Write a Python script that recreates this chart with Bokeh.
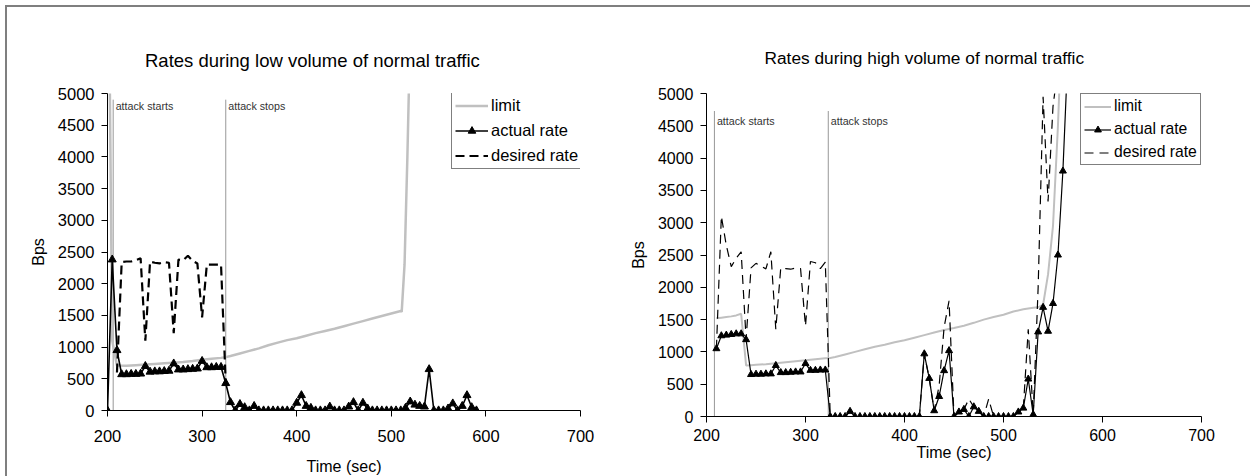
from bokeh.plotting import figure
from bokeh.layouts import row
from bokeh.models import FixedTicker, Legend, LegendItem, Range1d, Label
from bokeh.embed import file_html
from bokeh.resources import INLINE

FONT = "Liberation Sans"

# ---------------- data ----------------
x_ticks = [200, 300, 400, 500, 600, 700]
y_ticks = [0, 500, 1000, 1500, 2000, 2500, 3000, 3500, 4000, 4500, 5000]
legend_labels = ["limit", "actual rate", "desired rate"]
attack_labels = ["attack starts", "attack stops"]

low_title = "Rates during low volume of normal traffic"
high_title = "Rates during high volume of normal traffic"

# low volume chart
low_attack_t = [206, 325]
low_attack_top = [4900, 4900]
low_attack_label_y = [4800, 4800]

low_limit_t = [200, 205, 210, 220, 230, 240, 250, 260, 270, 280, 290, 300, 310, 320, 325,
               330, 340, 350, 360, 370, 380, 390, 400, 410, 420, 430, 440, 450, 460, 470,
               480, 490, 500, 505, 510, 511, 514, 517, 520]
low_limit_v = [9000, 1100, 710, 705, 715, 725, 735, 745, 755, 765, 780, 800, 815, 830, 842,
               860, 900, 940, 980, 1030, 1070, 1110, 1140, 1180, 1220, 1255, 1290, 1330, 1370, 1410,
               1450, 1490, 1530, 1550, 1568, 1555, 2300, 4000, 6000]

low_actual_t = [200, 205, 210, 215, 220, 225, 230, 235, 240, 245, 250, 255, 260, 265, 270,
                275, 280, 285, 290, 295, 300, 305, 310, 315, 320, 325, 330, 335, 340, 345,
                350, 355, 360, 365, 370, 375, 380, 385, 390, 395, 400, 405, 410, 415, 420,
                425, 430, 435, 440, 445, 450, 455, 460, 465, 470, 475, 480, 485, 490, 495,
                500, 505, 510, 515, 520, 525, 530, 535, 540, 545, 550, 555, 560, 565, 570,
                575, 580, 585, 590]
low_actual_v = [0, 2380, 950, 570, 570, 575, 575, 580, 700, 610, 615, 615, 620, 625, 740,
                645, 645, 650, 655, 660, 780, 680, 680, 685, 685, 430, 130, 0, 100, 50,
                0, 70, 0, 0, 0, 0, 0, 0, 0, 0, 120, 240, 70, 40, 0,
                0, 0, 60, 0, 0, 0, 60, 130, 0, 120, 30, 0, 0, 0, 0,
                0, 0, 0, 40, 140, 90, 70, 60, 650, 0, 0, 0, 30, 110, 0,
                70, 240, 50, 0]

low_desired_t = [210, 215, 220, 225, 230, 235, 240, 245, 250, 255, 260, 265, 270, 275, 280,
                 285, 290, 295, 300, 305, 310, 315, 320, 325]
low_desired_v = [600, 2340, 2350, 2350, 2370, 2400, 1100, 2350, 2330, 2320, 2340, 2330, 1220, 2380, 2370,
                 2440, 2360, 2320, 1470, 2300, 2300, 2300, 2300, 430]

# high volume chart
high_attack_t = [208, 323]
high_attack_top = [4730, 4730]
high_attack_label_y = [4580, 4580]

high_limit_t = [210, 215, 220, 225, 230, 235, 240, 245, 250, 260, 270, 280, 290, 300, 310,
                320, 325, 330, 340, 350, 360, 370, 380, 390, 400, 410, 420, 430, 440, 450,
                460, 470, 480, 490, 500, 510, 520, 530, 535, 540, 545, 550, 555, 560]
high_limit_v = [1520, 1530, 1540, 1550, 1565, 1590, 790, 795, 800, 810, 825, 840, 855, 870, 885,
                900, 905, 920, 960, 1000, 1040, 1080, 1110, 1150, 1180, 1220, 1260, 1300, 1340, 1370,
                1405, 1450, 1500, 1540, 1575, 1625, 1660, 1685, 1690, 1730, 2200, 2950, 4500, 6500]

high_actual_t = [210, 215, 220, 225, 230, 235, 240, 245, 250, 255, 260, 265, 270, 275, 280,
                 285, 290, 295, 300, 305, 310, 315, 320, 325, 330, 335, 340, 345, 350, 355,
                 360, 365, 370, 375, 380, 385, 390, 395, 400, 405, 410, 415, 420, 425, 430,
                 435, 440, 445, 450, 455, 460, 465, 470, 475, 480, 485, 490, 495, 500, 505,
                 510, 515, 520, 525, 530, 535, 540, 545, 550, 555, 560, 565]
high_actual_v = [1050, 1250, 1260, 1270, 1280, 1280, 1190, 650, 655, 655, 660, 660, 790, 680, 680,
                 685, 690, 690, 820, 715, 715, 720, 720, 0, 0, 0, 0, 80, 0, 0,
                 0, 0, 0, 0, 0, 0, 0, 0, 0, 0, 0, 0, 970, 590, 90,
                 310, 710, 1020, 0, 70, 110, 0, 150, 80, 0, 0, 0, 0, 0, 0,
                 0, 70, 130, 580, 30, 1310, 1690, 1320, 1750, 2500, 3800, 5600]

high_desired_t = [210, 215, 220, 225, 230, 235, 240, 245, 250, 255, 260, 265, 270, 275, 280,
                  285, 290, 295, 300, 305, 310, 315, 320, 325, 330, 335, 340, 345, 350, 355,
                  360, 365, 370, 375, 380, 385, 390, 395, 400, 405, 410, 415, 420, 425, 430,
                  435, 440, 445, 450, 455, 460, 465, 470, 475, 480, 485, 490, 495, 500, 505,
                  510, 515, 520, 525, 530, 535, 540, 545, 550, 555]
high_desired_v = [1050, 3100, 2650, 2320, 2450, 2550, 1200, 2300, 2370, 2330, 2285, 2550, 1350, 2300, 2290,
                  2280, 2300, 2290, 1400, 2400, 2380, 2290, 2390, 0, 0, 0, 0, 80, 0, 0,
                  0, 0, 0, 0, 0, 0, 0, 0, 0, 0, 0, 0, 970, 590, 90,
                  480, 1380, 1790, 0, 70, 110, 270, 150, 80, 0, 270, 0, 0, 0, 0,
                  0, 70, 130, 1350, 30, 2000, 4950, 3330, 4800, 5400]


def build(title, title_offset, title_size, title_standoff, geom, tick_size, lbl_size,
          x_tick_standoff, x_lab_standoff,
          limit_t, limit_v, limit_w, act_t, act_v, act_w, marker_size,
          des_t, des_v, des_w, des_dash, att_t, att_top, att_y,
          leg_loc, leg_font, leg_glyph_w, leg_label_h, leg_spacing, leg_pad):
    mbl, fw, mbr, mbt, fh, mbb = geom
    p = figure(x_range=Range1d(200, 700), y_range=Range1d(0, 5000),
               frame_width=fw, frame_height=fh,
               min_border_left=mbl, min_border_right=mbr,
               min_border_top=mbt, min_border_bottom=mbb,
               output_backend="svg", toolbar_location=None)
    p.outline_line_color = None
    p.xgrid.visible = False
    p.ygrid.visible = False
    p.background_fill_color = "white"
    p.border_fill_color = "white"

    p.title.text = title
    p.title.align = "left"
    p.title.offset = title_offset
    p.title.text_font = FONT
    p.title.text_font_size = title_size
    p.title.text_font_style = "normal"
    p.title.text_color = "black"
    p.title.standoff = title_standoff

    p.axis.axis_line_color = "black"
    p.axis.axis_line_width = 1
    p.axis.major_tick_line_color = "black"
    p.axis.major_tick_out = 6
    p.axis.major_tick_in = 0
    p.axis.minor_tick_line_color = None
    p.axis.major_label_text_font = FONT
    p.axis.major_label_text_font_size = tick_size
    p.axis.major_label_text_color = "black"
    p.axis.axis_label_text_font = FONT
    p.axis.axis_label_text_font_size = lbl_size
    p.axis.axis_label_text_font_style = "normal"
    p.axis.axis_label_text_color = "black"
    p.xaxis.ticker = FixedTicker(ticks=x_ticks)
    p.yaxis.ticker = FixedTicker(ticks=y_ticks)
    p.xaxis.axis_label = "Time (sec)"
    p.yaxis.axis_label = "Bps"
    p.xaxis.major_label_standoff = x_tick_standoff
    p.xaxis.axis_label_standoff = x_lab_standoff
    p.yaxis.major_label_standoff = 7
    p.yaxis.axis_label_standoff = 8

    # attack markers
    p.segment(x0=att_t, y0=[0] * len(att_t), x1=att_t, y1=att_top,
              line_color="#303030", line_width=1, line_dash="1 1")
    for t, y, txt in zip(att_t, att_y, attack_labels):
        p.add_layout(Label(x=t, y=y, text=txt, x_offset=2.5, text_baseline="middle",
                           text_font=FONT, text_font_size="10.7px", text_color="#333333"))

    r_lim = p.line(limit_t, limit_v, line_color="#c0c0c0", line_width=limit_w)
    r_des = p.line(des_t, des_v, line_color="black", line_width=des_w, line_dash=des_dash)
    r_act = p.line(act_t, act_v, line_color="black", line_width=act_w)
    r_mk = p.scatter(act_t, act_v, marker="triangle", size=marker_size,
                     fill_color="black", line_color="black")

    legend = Legend(items=[LegendItem(label=legend_labels[0], renderers=[r_lim]),
                           LegendItem(label=legend_labels[1], renderers=[r_act, r_mk]),
                           LegendItem(label=legend_labels[2], renderers=[r_des])],
                    location=leg_loc, orientation="vertical")
    legend.label_text_font = FONT
    legend.label_text_font_size = leg_font
    legend.label_text_color = "black"
    legend.glyph_width = leg_glyph_w
    legend.glyph_height = leg_label_h
    legend.label_height = leg_label_h
    legend.label_standoff = 3
    legend.spacing = leg_spacing
    legend.padding = leg_pad
    legend.margin = 0
    legend.border_line_color = "black"
    legend.border_line_width = 1
    legend.background_fill_color = "white"
    legend.background_fill_alpha = 1
    p.add_layout(legend, "center")
    return p


p1 = build(low_title, 37.5, "18.5px", 45, (100, 473, 46, 86, 317, 66), "16.5px", "16px", 13, 13,
           low_limit_t, low_limit_v, 2.5, low_actual_t, low_actual_v, 1.6, 8,
           low_desired_t, low_desired_v, 2.2, "9 5", low_attack_t, low_attack_top, low_attack_label_y,
           (344, 241), "16.5px", 33, 19, 6, 3)
p2 = build(high_title, 58, "17.3px", 51, (74, 495, 50, 79, 323, 67), "16px", "16px", 6, 0,
           high_limit_t, high_limit_v, 2.0, high_actual_t, high_actual_v, 1.2, 7,
           high_desired_t, high_desired_v, 1.2, "9 6", high_attack_t, high_attack_top, high_attack_label_y,
           (374, 251), "15.7px", 27, 17, 5, 3)

layout = row(p1, p2, styles={"position": "absolute", "left": "5px", "top": "5px",
                             "border-top": "2px solid #7f7f7f", "border-left": "2px solid #7f7f7f",
                             "background": "white"})

open("out.html", "w").write(file_html(layout, INLINE))
